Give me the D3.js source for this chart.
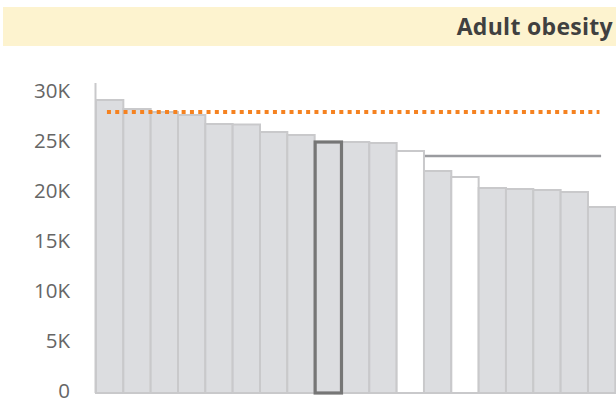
<!DOCTYPE html>
<html><head><meta charset="utf-8">
<script src="https://cdn.jsdelivr.net/npm/d3@7"></script>
<style>body{margin:0;background:#fff;overflow:hidden}svg{display:block}</style>
</head><body><svg id="c" width="616" height="403"></svg>
<script>
const categories = ["A1","A2","A3","A4","A5","A6","A7","A8","A9","A10","A11","A12","A13","A14","A15","A16","A17","A18","A19"];
const values = [29300,28400,28100,27800,26900,26850,26100,25800,25100,25100,25000,24200,22200,21600,20500,20400,20300,20100,18600];
const barType = ["n","n","n","n","n","n","n","n","h","n","n","w","n","w","n","n","n","n","n"];
const benchmarkValue = 28100;   // orange dotted line
const groupAverageValue = 23700; // grey line
const yTicks = [0,5000,10000,15000,20000,25000,30000];
const yTickLabels = ["0","5K","10K","15K","20K","25K","30K"];
const title = "Adult obesity";

const svg = d3.select("#c");
// title band
svg.append("rect").attr("x",3).attr("y",7).attr("width",613).attr("height",39).attr("fill","#fdf3cf");
svg.append("text").attr("x",613).attr("y",35).attr("text-anchor","end")
  .attr("font-family","'Open Sans',sans-serif").attr("font-weight","bold").attr("font-size",23)
  .attr("letter-spacing",0.3)
  .attr("fill","#404040").text(title);

const x = d3.scaleBand().domain(categories).range([96, 615.3]).padding(0);
const y = d3.scaleLinear().domain([0,30000]).range([393,93]);
const bw = x.bandwidth();

// y axis labels
const ax = svg.append("g").attr("transform","translate(70,-2)")
  .call(d3.axisLeft(y).tickValues(yTicks).tickFormat((d,i)=>yTickLabels[i]).tickSize(0).tickPadding(0));
ax.select(".domain").remove();
ax.selectAll("text").attr("font-family","'Open Sans',sans-serif").attr("font-size",20.5).attr("fill","#666");

// axis lines
svg.append("line").attr("x1",95.5).attr("x2",95.5).attr("y1",83).attr("y2",393)
  .attr("stroke","#c9c9cb").attr("stroke-width",2);
svg.append("line").attr("x1",95).attr("x2",616).attr("y1",393).attr("y2",393)
  .attr("stroke","#c9c9cb").attr("stroke-width",2);

// bars
const bars = svg.append("g");
categories.forEach((c,i)=>{
  const t = barType[i];
  bars.append("rect")
    .attr("x", x(c)+(t==="h"?0.5:0)).attr("y", y(values[i]))
    .attr("width", bw-(t==="h"?1:0)).attr("height", y(0)-y(values[i]))
    .attr("fill", t==="w" ? "#ffffff" : "#dcdde0")
    .attr("stroke", t==="h" ? "#767676" : "#c9c9cb")
    .attr("stroke-width", t==="h" ? 3.2 : 2);
});
bars.selectAll("rect").filter((d,i)=>barType[i]==="h").raise();

// grey group average line
svg.append("line")
  .attr("x1", x(categories[12])+1).attr("x2", x(categories[18])+bw*0.48)
  .attr("y1", y(groupAverageValue)).attr("y2", y(groupAverageValue))
  .attr("stroke","#9a9b9f").attr("stroke-width",2.5);
// orange dotted benchmark
svg.append("line")
  .attr("x1", x(categories[0])+bw*0.4).attr("x2", x(categories[18])+bw*0.42)
  .attr("y1", y(benchmarkValue)).attr("y2", y(benchmarkValue))
  .attr("stroke","#f58220").attr("stroke-width",3.8).attr("stroke-dasharray","4,4.3");
</script></body></html>
